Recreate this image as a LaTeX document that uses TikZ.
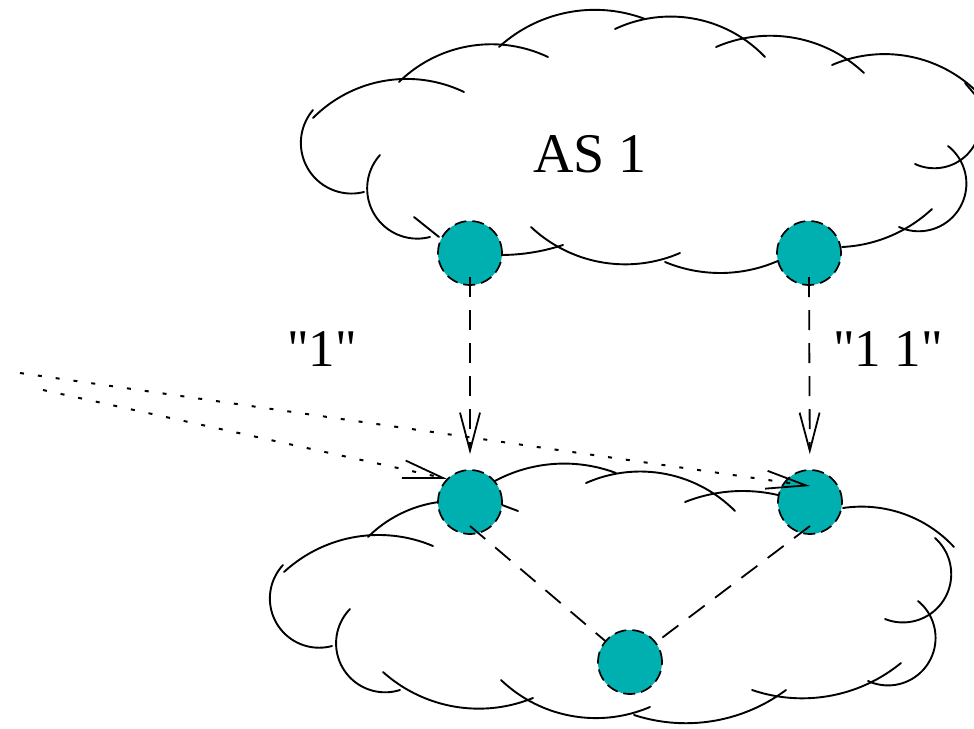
\documentclass[tikz,border=0pt]{standalone}
\usepackage{fontspec}
\setmainfont{Liberation Serif}
\newfontfamily\lblfont{Liberation Serif}
\usetikzlibrary{arrows.meta}
\definecolor{nodeteal}{RGB}{0,176,176}
% circular arc through three points (start, middle, end)
\newcommand{\cloudarc}[6]{%
  \pgfmathsetmacro\CAbx{(#3-#1)/100}%
  \pgfmathsetmacro\CAby{(#4-#2)/100}%
  \pgfmathsetmacro\CAcx{(#5-#1)/100}%
  \pgfmathsetmacro\CAcy{(#6-#2)/100}%
  \pgfmathsetmacro\CAdd{2*(\CAbx*\CAcy-\CAby*\CAcx)}%
  \pgfmathsetmacro\CAbb{\CAbx*\CAbx+\CAby*\CAby}%
  \pgfmathsetmacro\CAcc{\CAcx*\CAcx+\CAcy*\CAcy}%
  \pgfmathsetmacro\CAux{(\CAcy*\CAbb-\CAby*\CAcc)/\CAdd}%
  \pgfmathsetmacro\CAuy{(\CAbx*\CAcc-\CAcx*\CAbb)/\CAdd}%
  \pgfmathsetmacro\CAa{atan2(-\CAuy,-\CAux)}%
  \pgfmathsetmacro\CAc{atan2(\CAcy-\CAuy,\CAcx-\CAux)}%
  \pgfmathsetmacro\CAr{100*sqrt(\CAux*\CAux+\CAuy*\CAuy)}%
  \pgfmathsetmacro\CAox{#1+100*\CAux}%
  \pgfmathsetmacro\CAoy{#2+100*\CAuy}%
  \pgfmathparse{\CAdd>0 ? (\CAc<\CAa ? \CAc+360 : \CAc) : (\CAc>\CAa ? \CAc-360 : \CAc)}%
  \let\CAe\pgfmathresult
  \draw[cloudline] plot[domain=\CAa:\CAe, samples=40, variable=\t] ({\CAox+\CAr*cos(\t)},{\CAoy+\CAr*sin(\t)});%
}
\begin{document}
\begin{tikzpicture}[x=1pt,y=-1pt,
  cloudline/.style={line width=1.9pt, line cap=round},
  router/.style={circle, fill=nodeteal, draw=black, line width=1.7pt, dash pattern=on 12pt off 6pt, minimum size=64pt, inner sep=0pt},
  link/.style={line width=1.8pt, dash pattern=on 20pt off 13pt},
  advert/.style={link, -{Straight Barb[length=38pt,width=20pt,line width=1.8pt]}},
  leak/.style={line width=2pt, dash pattern=on 4pt off 14pt, -{Straight Barb[length=40pt,width=18pt,line width=1.8pt]}},
  lbl/.style={font=\lblfont\fontsize{53}{60}\selectfont, inner sep=0pt},
  cloudlbl/.style={font=\lblfont\fontsize{56}{64}\selectfont, inner sep=0pt}
]
\clip (0,0) rectangle (974,728);
\fill[white] (0,0) rectangle (974,728);
% top cloud (AS 1)
\cloudarc{313}{118}{390}{80}{464}{92}
\cloudarc{399}{82}{470}{46}{548}{57}
\cloudarc{499}{47}{570}{12}{645}{19}
\cloudarc{615}{29}{690}{18}{765}{57}
\cloudarc{716}{47}{795}{38}{864}{73}
\cloudarc{832}{65}{900}{55}{975}{90}
\draw[cloudline] (965,83) -- (982,103);
\cloudarc{915}{164}{945}{167}{978}{137}
\cloudarc{948}{146}{965}{195}{899}{227}
\cloudarc{842}{247}{888}{237}{932}{209}
\cloudarc{313}{110}{305}{163}{364}{192}
\cloudarc{380}{155}{373}{212}{430}{237}
\draw[cloudline] (414,217) -- (439,237);
\cloudarc{501}{255}{535}{252}{563}{245}
\cloudarc{531}{227}{600}{262}{680}{253}
\cloudarc{665}{262}{720}{273}{780}{260}
% bottom cloud
\cloudarc{493}{482}{553}{464}{616}{473}
\cloudarc{586}{483}{660}{473}{735}{511}
\cloudarc{685}{502}{741}{491}{782}{496}
\draw[cloudline] (502,505) -- (518,511);
\cloudarc{843}{508}{898}{512}{954}{547}
\cloudarc{935}{538}{946}{596}{885}{619}
\cloudarc{918}{601}{929}{662}{868}{681}
\cloudarc{901}{663}{829}{696}{752}{690}
\cloudarc{786}{690}{713}{721}{634}{715}
\cloudarc{650}{707}{572}{716}{501}{680}
\cloudarc{533}{698}{457}{707}{383}{672}
\cloudarc{400}{690}{344}{670}{350}{609}
\cloudarc{332}{646}{277}{624}{283}{565}
\cloudarc{284}{572}{355}{537}{433}{546}
\cloudarc{368}{537}{400}{514}{439}{502}
% routers
\node[router] (n1) at (470,253) {};
\node[router] (n2) at (809,253) {};
\node[router] (n3) at (470,502) {};
\node[router] (n4) at (810,502) {};
\node[router] (n5) at (630,662) {};
% labels
\node[cloudlbl] (as1) at (590,154) {AS 1};
\node[lbl] (l1) at (322,349) {"1"};
\node[lbl] (l2) at (888,349) {"1 1"};
% links
\draw[advert, shorten >=15pt] ([yshift=-24pt]n1.center) -- (n3);
\draw[advert, shorten >=15pt] ([yshift=-24pt]n2.center) -- (n4);
\draw[link] ([yshift=-24pt]n3.center) -- (n5);
\draw[link] ([yshift=-24pt]n4.center) -- (n5);
% leaked dotted routes
\coordinate (s1) at (20,373);
\coordinate (s2) at (43,390);
\draw[leak] (s1) -- ([yshift=16pt]n4.center);
\draw[leak] (s2) -- (n3.135);
\end{tikzpicture}
\end{document}
